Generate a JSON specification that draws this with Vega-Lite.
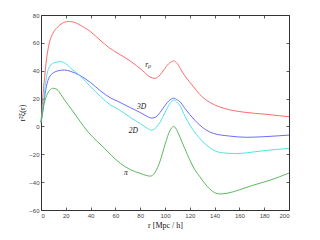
{
  "$schema": "https://vega.github.io/schema/vega-lite/v6.json",
  "width": 248,
  "height": 195,
  "autosize": "none",
  "padding": {"left": 41, "top": 15, "right": 31, "bottom": 30},
  "background": "white",
  "config": {
    "view": {"stroke": "#333", "strokeWidth": 1},
    "axis": {"grid": false, "domain": false, "tickSize": -3, "tickColor": "#333", "tickWidth": 0.8,
      "labelFont": "Liberation Sans", "labelFontSize": 6, "labelColor": "#444", "labelPadding": 5,
      "titleFont": "Liberation Serif", "titleFontSize": 8, "titleFontWeight": "normal", "titleColor": "#111"}
  },
  "datasets": {
    "curves": [
      {"series": "rp", "r": 0, "v": 3}, {"series": "rp", "r": 1, "v": 15}, {"series": "rp", "r": 2, "v": 27},
      {"series": "rp", "r": 3, "v": 36}, {"series": "rp", "r": 4, "v": 45}, {"series": "rp", "r": 5.6, "v": 55},
      {"series": "rp", "r": 7, "v": 61}, {"series": "rp", "r": 9.7, "v": 67}, {"series": "rp", "r": 13, "v": 71},
      {"series": "rp", "r": 17, "v": 74}, {"series": "rp", "r": 22, "v": 75.3}, {"series": "rp", "r": 26, "v": 75},
      {"series": "rp", "r": 30, "v": 73.5}, {"series": "rp", "r": 35, "v": 71}, {"series": "rp", "r": 40, "v": 68},
      {"series": "rp", "r": 47.6, "v": 62}, {"series": "rp", "r": 55, "v": 56.5}, {"series": "rp", "r": 62, "v": 52.5},
      {"series": "rp", "r": 72, "v": 47}, {"series": "rp", "r": 82, "v": 40}, {"series": "rp", "r": 88, "v": 35.5},
      {"series": "rp", "r": 92, "v": 34.5}, {"series": "rp", "r": 96, "v": 37}, {"series": "rp", "r": 99, "v": 40.6},
      {"series": "rp", "r": 103, "v": 45}, {"series": "rp", "r": 107, "v": 47}, {"series": "rp", "r": 110, "v": 45},
      {"series": "rp", "r": 114, "v": 39}, {"series": "rp", "r": 118, "v": 34}, {"series": "rp", "r": 123, "v": 28.5},
      {"series": "rp", "r": 128, "v": 23}, {"series": "rp", "r": 134, "v": 18.5}, {"series": "rp", "r": 140, "v": 15.5},
      {"series": "rp", "r": 152, "v": 12}, {"series": "rp", "r": 166, "v": 10}, {"series": "rp", "r": 180, "v": 8.8},
      {"series": "rp", "r": 200, "v": 7},

      {"series": "3D", "r": 0, "v": 3}, {"series": "3D", "r": 1, "v": 8}, {"series": "3D", "r": 2, "v": 15},
      {"series": "3D", "r": 4, "v": 27}, {"series": "3D", "r": 5.6, "v": 33}, {"series": "3D", "r": 8, "v": 37},
      {"series": "3D", "r": 10, "v": 38.5}, {"series": "3D", "r": 14, "v": 40}, {"series": "3D", "r": 19, "v": 40.5},
      {"series": "3D", "r": 24, "v": 39.5}, {"series": "3D", "r": 31, "v": 36.8}, {"series": "3D", "r": 40, "v": 31.5},
      {"series": "3D", "r": 48, "v": 25.5}, {"series": "3D", "r": 56, "v": 20.5}, {"series": "3D", "r": 62, "v": 18},
      {"series": "3D", "r": 72, "v": 13.5}, {"series": "3D", "r": 80, "v": 10}, {"series": "3D", "r": 86, "v": 7},
      {"series": "3D", "r": 89, "v": 6}, {"series": "3D", "r": 92, "v": 6.5}, {"series": "3D", "r": 96, "v": 10},
      {"series": "3D", "r": 100, "v": 15}, {"series": "3D", "r": 104, "v": 19}, {"series": "3D", "r": 107, "v": 20.3},
      {"series": "3D", "r": 110, "v": 19}, {"series": "3D", "r": 112, "v": 17.8}, {"series": "3D", "r": 116, "v": 13},
      {"series": "3D", "r": 120, "v": 8.5}, {"series": "3D", "r": 124, "v": 4.5}, {"series": "3D", "r": 128, "v": 1},
      {"series": "3D", "r": 133, "v": -2.5}, {"series": "3D", "r": 139, "v": -5}, {"series": "3D", "r": 152, "v": -6.9},
      {"series": "3D", "r": 166, "v": -7.8}, {"series": "3D", "r": 179, "v": -7.4}, {"series": "3D", "r": 200, "v": -6.2},

      {"series": "2D", "r": 0, "v": 3}, {"series": "2D", "r": 1, "v": 9}, {"series": "2D", "r": 2, "v": 17},
      {"series": "2D", "r": 3, "v": 26}, {"series": "2D", "r": 4.3, "v": 35}, {"series": "2D", "r": 7, "v": 43},
      {"series": "2D", "r": 10, "v": 45.5}, {"series": "2D", "r": 16, "v": 46.5}, {"series": "2D", "r": 20, "v": 45},
      {"series": "2D", "r": 25, "v": 41}, {"series": "2D", "r": 31, "v": 36.8}, {"series": "2D", "r": 40, "v": 28.5},
      {"series": "2D", "r": 48, "v": 21.5}, {"series": "2D", "r": 56, "v": 15.5}, {"series": "2D", "r": 62, "v": 12.5},
      {"series": "2D", "r": 72, "v": 6.5}, {"series": "2D", "r": 80, "v": 2}, {"series": "2D", "r": 86, "v": -1.5},
      {"series": "2D", "r": 89, "v": -2.6}, {"series": "2D", "r": 92, "v": -1.5}, {"series": "2D", "r": 96, "v": 3},
      {"series": "2D", "r": 100, "v": 10}, {"series": "2D", "r": 104, "v": 16.5}, {"series": "2D", "r": 107, "v": 19},
      {"series": "2D", "r": 110, "v": 17}, {"series": "2D", "r": 112, "v": 15}, {"series": "2D", "r": 116, "v": 7.5},
      {"series": "2D", "r": 120, "v": 1}, {"series": "2D", "r": 123, "v": -3}, {"series": "2D", "r": 128, "v": -8.6},
      {"series": "2D", "r": 133, "v": -13}, {"series": "2D", "r": 139, "v": -17}, {"series": "2D", "r": 147, "v": -19},
      {"series": "2D", "r": 158, "v": -19.5}, {"series": "2D", "r": 170, "v": -18.5}, {"series": "2D", "r": 179, "v": -17.5},
      {"series": "2D", "r": 190, "v": -16.5}, {"series": "2D", "r": 200, "v": -15.8},

      {"series": "pi", "r": 0, "v": 3}, {"series": "pi", "r": 1, "v": 9}, {"series": "pi", "r": 2, "v": 14},
      {"series": "pi", "r": 3, "v": 18}, {"series": "pi", "r": 5, "v": 23}, {"series": "pi", "r": 7, "v": 26},
      {"series": "pi", "r": 10, "v": 27.4}, {"series": "pi", "r": 13, "v": 26.5}, {"series": "pi", "r": 16, "v": 23},
      {"series": "pi", "r": 19, "v": 19}, {"series": "pi", "r": 24, "v": 13}, {"series": "pi", "r": 30, "v": 5.5},
      {"series": "pi", "r": 38, "v": -4}, {"series": "pi", "r": 45, "v": -10.5}, {"series": "pi", "r": 51, "v": -15.5},
      {"series": "pi", "r": 57, "v": -21}, {"series": "pi", "r": 64, "v": -26.5}, {"series": "pi", "r": 72, "v": -31},
      {"series": "pi", "r": 80, "v": -33.7}, {"series": "pi", "r": 85, "v": -35.2}, {"series": "pi", "r": 88, "v": -35.7},
      {"series": "pi", "r": 92, "v": -33}, {"series": "pi", "r": 96, "v": -25}, {"series": "pi", "r": 100, "v": -13},
      {"series": "pi", "r": 104, "v": -3}, {"series": "pi", "r": 107, "v": 0}, {"series": "pi", "r": 110, "v": -3.5},
      {"series": "pi", "r": 112, "v": -7.5}, {"series": "pi", "r": 116, "v": -16}, {"series": "pi", "r": 120, "v": -24},
      {"series": "pi", "r": 124, "v": -31}, {"series": "pi", "r": 128, "v": -36}, {"series": "pi", "r": 134, "v": -43},
      {"series": "pi", "r": 140, "v": -47.5}, {"series": "pi", "r": 144, "v": -48.5}, {"series": "pi", "r": 150, "v": -48},
      {"series": "pi", "r": 160, "v": -45.5}, {"series": "pi", "r": 170, "v": -42.5}, {"series": "pi", "r": 185, "v": -38.5},
      {"series": "pi", "r": 200, "v": -33.5}
    ],
    "labels": [
      {"r": 86.5, "v": 44, "label": "rₚ"},
      {"r": 81.2, "v": 13.7, "label": "3D"},
      {"r": 74.4, "v": -3.6, "label": "2D"},
      {"r": 68.5, "v": -33.5, "label": "π"}
    ]
  },
  "layer": [
    {
      "data": {"name": "curves"},
      "mark": {"type": "line", "strokeWidth": 0.9, "interpolate": "monotone"},
      "encoding": {
        "x": {"field": "r", "type": "quantitative", "scale": {"domain": [0, 200], "nice": false},
          "axis": {"orient": "bottom", "values": [0, 20, 40, 60, 80, 100, 120, 140, 160, 180, 200], "title": "r [Mpc / h]", "titlePadding": 3}},
        "y": {"field": "v", "type": "quantitative", "scale": {"domain": [-60, 80], "nice": false},
          "axis": {"orient": "left", "values": [-60, -40, -20, 0, 20, 40, 60, 80], "title": "r²ξ(r)", "titlePadding": 2}},
        "color": {"field": "series", "type": "nominal", "legend": null,
          "scale": {"domain": ["rp", "3D", "2D", "pi"], "range": ["#ff5a5a", "#5a5aff", "#40dede", "#4caf4c"]}},
        "detail": {"field": "series"}
      }
    },
    {
      "data": {"name": "labels"},
      "mark": {"type": "text", "font": "Liberation Serif", "fontStyle": "italic", "fontSize": 7.5, "fill": "#111", "color": "#111"},
      "encoding": {
        "x": {"field": "r", "type": "quantitative",
          "axis": {"orient": "top", "values": [0, 20, 40, 60, 80, 100, 120, 140, 160, 180, 200], "labels": false, "title": null}},
        "y": {"field": "v", "type": "quantitative",
          "axis": {"orient": "right", "values": [-60, -40, -20, 0, 20, 40, 60, 80], "labels": false, "title": null}},
        "text": {"field": "label"}
      }
    }
  ],
  "resolve": {"axis": {"x": "independent", "y": "independent"}}
}
